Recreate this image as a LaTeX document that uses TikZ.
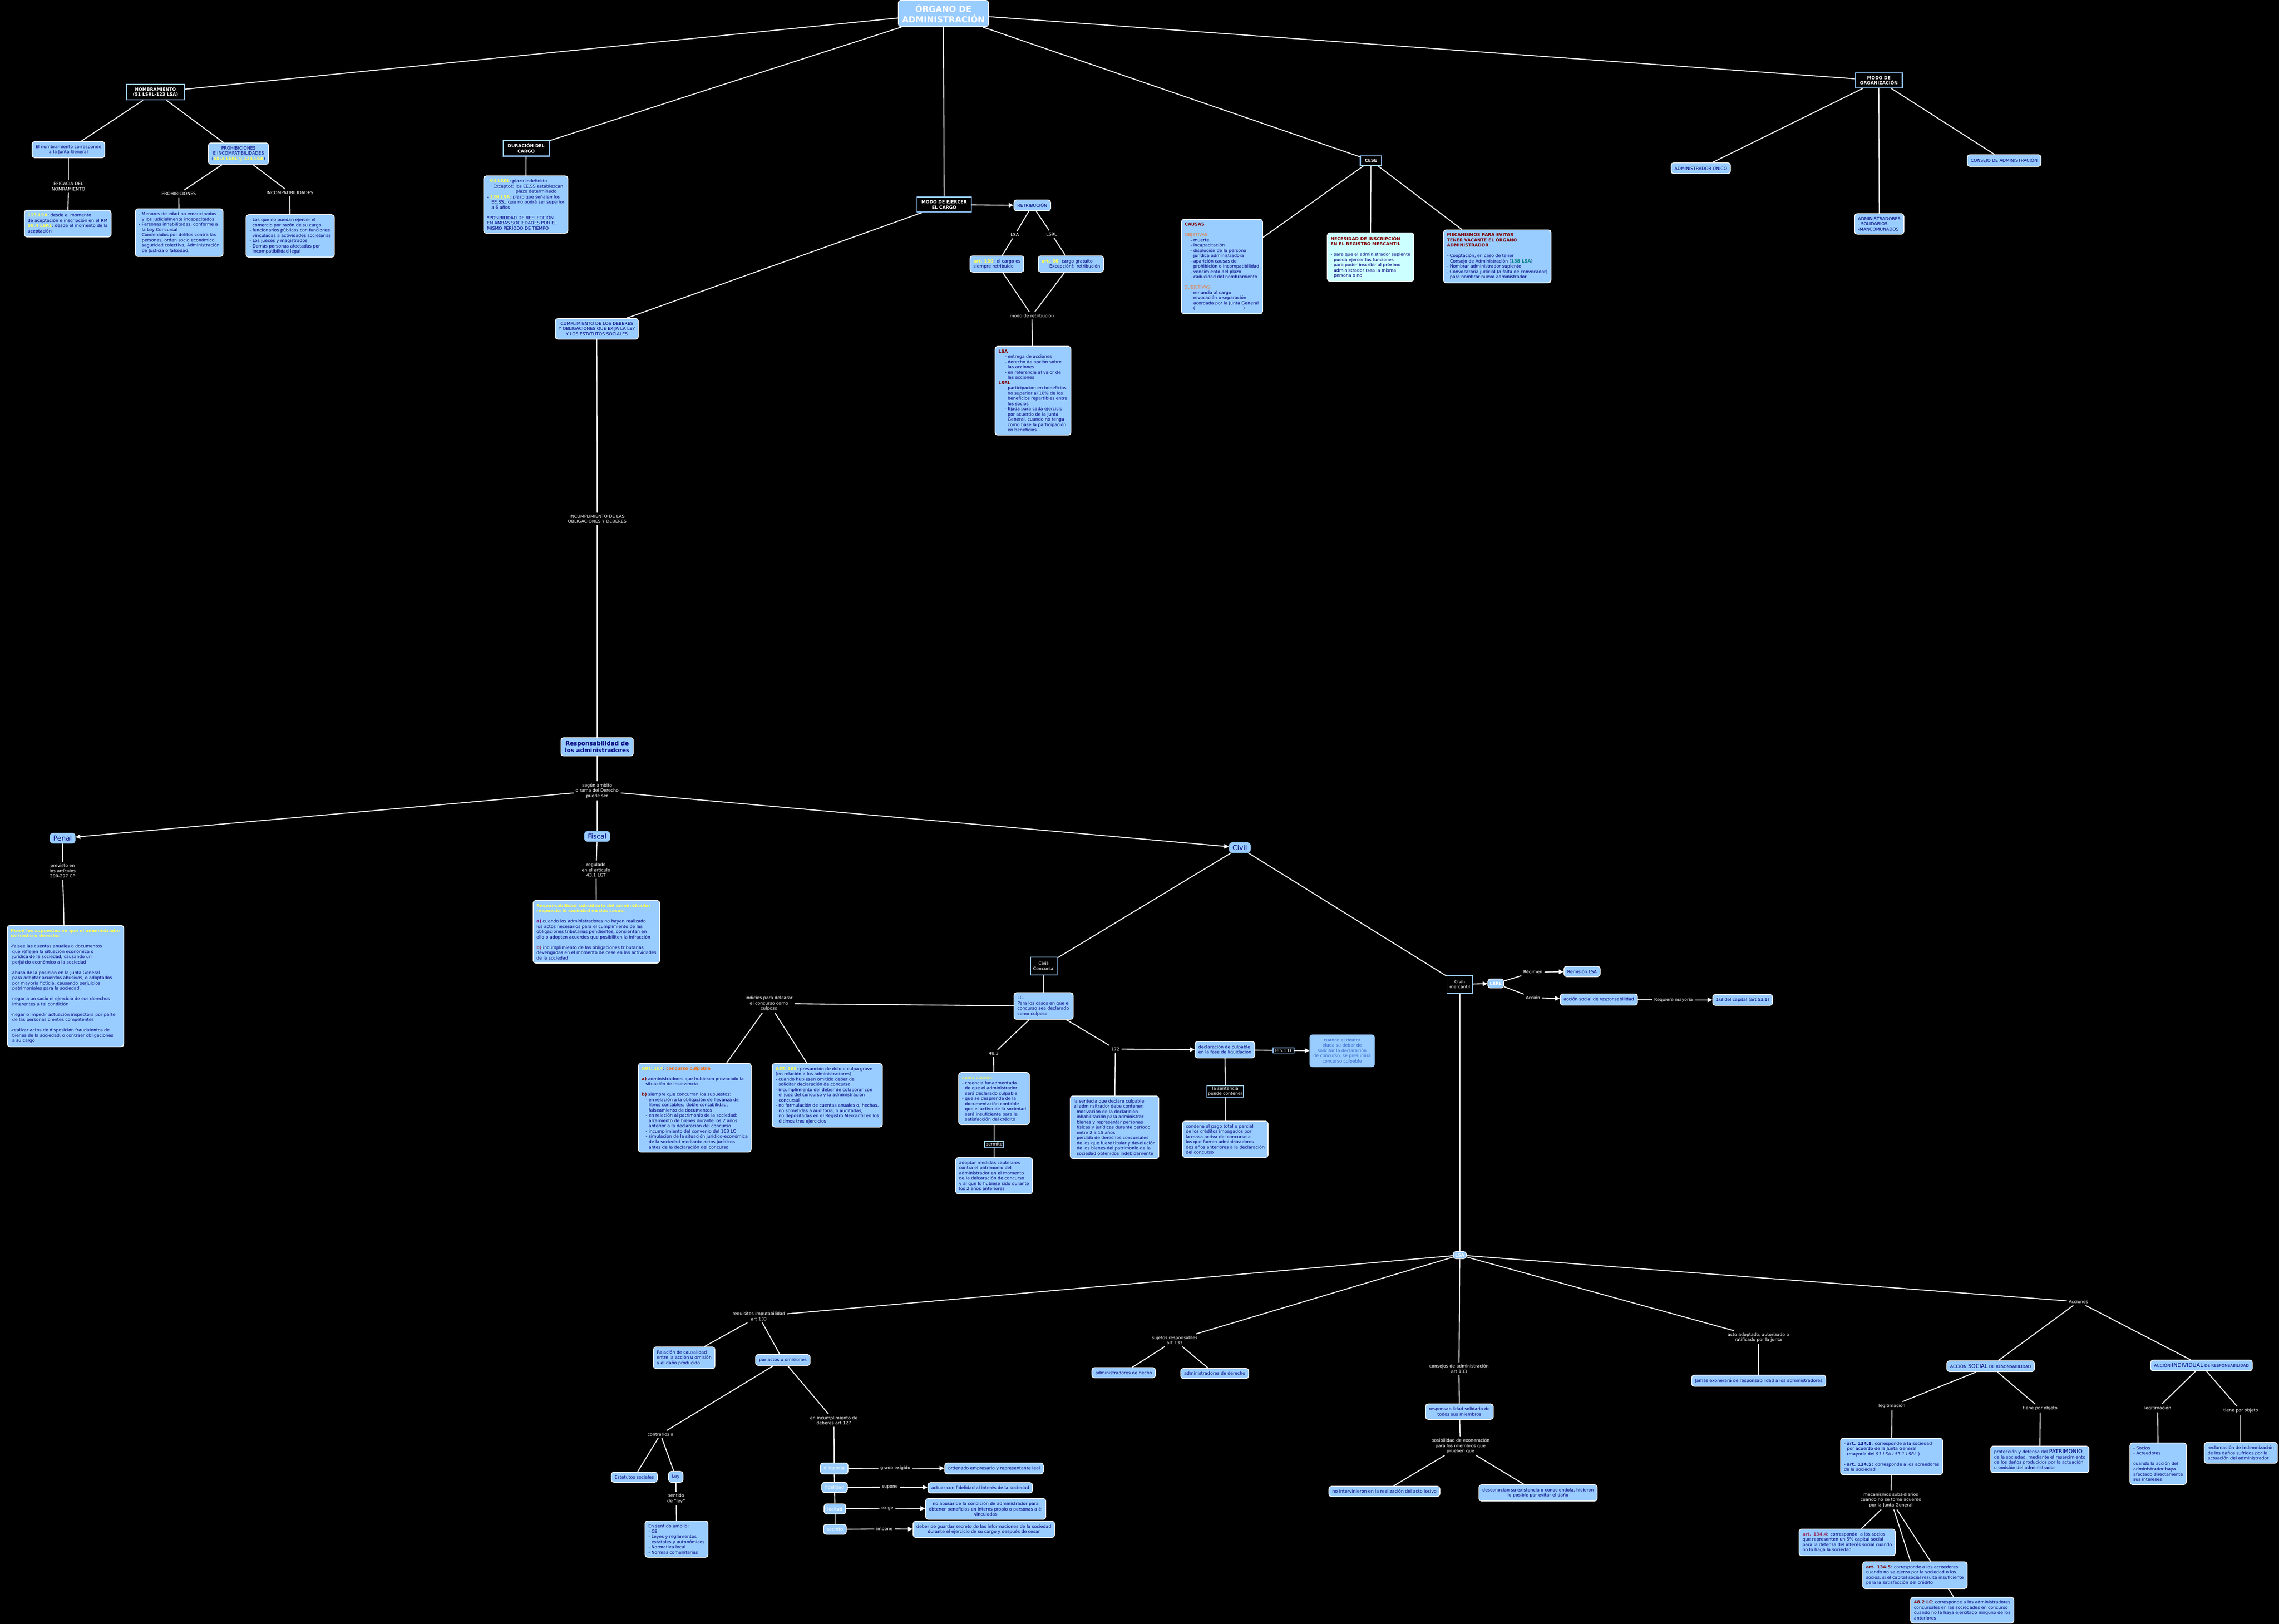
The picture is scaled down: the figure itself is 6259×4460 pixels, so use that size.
\documentclass[tikz,border=0pt]{standalone}
\usepackage{fontspec}
\setmainfont{DejaVu Sans}
\usetikzlibrary{arrows.meta,backgrounds}

\definecolor{boxblue}{RGB}{153,204,255}
\definecolor{navytext}{RGB}{0,0,128}
\definecolor{hlyellow}{RGB}{255,255,85}
\definecolor{darkred}{RGB}{128,0,0}
\definecolor{softorange}{RGB}{232,128,72}
\definecolor{hotorange}{RGB}{255,102,0}
\definecolor{tealtext}{RGB}{0,128,128}
\definecolor{purpletext}{RGB}{128,0,128}
\definecolor{plumtext}{RGB}{153,51,102}
\definecolor{palecyan}{RGB}{204,255,255}
\definecolor{midblue}{RGB}{51,102,204}

\newcommand\mapfont{\fontsize{6.8}{8.2}\selectfont}
\newcommand\hly[1]{\textcolor{hlyellow}{\textbf{#1}}}
\newcommand\drd[1]{\textcolor{darkred}{\textbf{#1}}}
\newcommand\indt{\hspace*{0.7em}}

\begin{document}
\begin{tikzpicture}[
  x=0.02cm, y=-0.02cm,
  every node/.style={font=\mapfont},
  idea/.style={draw=white, line width=1.2pt, fill=boxblue, text=navytext, rounded corners=4pt, align=center, inner xsep=5.3pt, inner ysep=5.3pt},
  ideaL/.style={idea, align=left},
  heading/.style={draw=boxblue, line width=1.6pt, fill=black, text=white, font=\mapfont\bfseries, align=center, inner xsep=7pt, inner ysep=5pt},
  darkbox/.style={draw=boxblue, line width=1.3pt, fill=black, text=white, align=center, inner xsep=1.5pt, inner ysep=1.5pt},
  big/.style={idea, draw=boxblue, font=\fontsize{10.7}{13}\selectfont, inner xsep=5pt, inner ysep=3.5pt},
  linkword/.style={text=white, align=center, inner sep=3pt},
  conn/.style={draw=white, line width=1.5pt},
  connto/.style={conn, -{Triangle[length=7.5pt,width=7pt]}}
]
\useasboundingbox (0,0) rectangle (6259,4460);
\begin{scope}[on background layer]
  \fill[black] (0,0) rectangle (6259,4460);
\end{scope}

\node[idea, text=white, font=\fontsize{13}{16}\selectfont\bfseries, inner xsep=6pt, inner ysep=6.5pt] (organo) at (2591,37) {ÓRGANO DE\\ADMINISTRACIÓN};

\node[heading, inner xsep=10pt] (nombra) at (427,253) {NOMBRAMIENTO\\(51 LSRL-123 LSA)};
\node[idea] (junta) at (188,411) {El nombramiento corresponde\\a la Junta General};
\node[idea] (prohib) at (655,422) {PROHIBICIONES\\E INCOMPATIBILIDADES\\(\hly{58.3 LSRL y 124 LSA})};
\node[linkword] (eficacia) at (188,512) {EFICACIA DEL\\NOMRAMIENTO};
\node[linkword] (lprohib) at (491,532) {PROHIBICIONES};
\node[linkword] (lincomp) at (796,529) {INCOMPATIBILIDADES};
\node[ideaL] (aceptacion) at (186,614) {\hly{125 LSA}: desde el momento\\de aceptación e inscripción en el RM\\\hly{58.4 LSRL}: desde el momento de la\\aceptación};
\node[ideaL] (prohlist) at (492,639) {- Menores de edad no emancipados\\\indt y los judicialmente incapacitados\\- Personas inhabilitadas, conforme a\\\indt la Ley Concursal\\- Condenados por delitos contra las\\\indt personas, orden socio económico\\\indt seguridad colectiva, Administración\\\indt de Justicia o falsedad.};
\node[ideaL] (incomplist) at (797,648) {- Los que no puedan ejercer el\\\indt comercio por razón de su cargo\\- funcionarios públicos con funciones\\\indt vinculadas a actividades societarias\\- Los jueces y magistrados\\- Demás personas afectadas por\\\indt incompatibilidad legal};

\node[heading] (duracion) at (1445,407) {DURACIÓN DEL\\CARGO};
\node[ideaL] (plazo) at (1444,562) {- \hly{60 LSRL}: plazo indefinido\\\hspace*{1.4em}Excepto!: los EE.SS establezcan\\\hspace*{6.6em}plazo determinado\\- \hly{126 LSA}: plazo que señalen los\\\hspace*{1em}EE.SS., que no podrá ser superior\\\hspace*{1em}a 6 años\\[8.2pt]*POSIBILIDAD DE REELECCIÓN\\EN AMBAS SOCIEDADES POR EL\\MISMO PERÍODO DE TIEMPO};
\node[idea] (cumplim) at (1639,903) {CUMPLIMIENTO DE LOS DEBERES\\Y OBLIGACIONES QUE EXIJA LA LEY\\Y LOS ESTATUTOS SOCIALES};
\node[linkword] (incumplim) at (1640,1425) {INCUMPLIMIENTO DE LAS\\OBLIGACIONES Y DEBERES};

\node[heading] (ejercer) at (2593,562) {MODO DE EJERCER\\EL CARGO};
\node[idea] (retrib) at (2835,564) {RETRIBUCIÓN};
\node[linkword] (lsaretr) at (2787,645) {LSA};
\node[linkword] (lsrlretr) at (2888,643) {LSRL};
\node[ideaL] (art130) at (2738,725) {\hly{art. 130}: el cargo es\\siempre retribuido};
\node[ideaL] (art66) at (2941,725) {\hly{art. 66}: cargo gratuito\\\hspace*{1.8em}Excepción!: retribución};
\node[linkword] (modoretr) at (2834,867) {modo de retribución};
\node[ideaL] (formas) at (2837,1073) {\drd{LSA}\\\hspace*{1.45em}- entrega de acciones\\\hspace*{1.45em}- derecho de opción sobre\\\hspace*{2.1em}las acciones\\\hspace*{1.45em}- en referencia al valor de\\\hspace*{2.1em}las acciones\\\drd{LSRL}\\\hspace*{1.45em}- participación en beneficios\\\hspace*{2.1em}no superior al 10\% de los\\\hspace*{2.1em}beneficios repartibles entre\\\hspace*{2.1em}los socios\\\hspace*{1.45em}- fijada para cada ejercicio\\\hspace*{2.1em}por acuerdo de la Junta\\\hspace*{2.1em}General, cuando no tenga\\\hspace*{2.1em}como base la participación\\\hspace*{2.1em}en beneficios};

\node[heading] (cese) at (3765,441) {CESE};
\node[ideaL] (causas) at (3356,732) {\drd{CAUSAS}\\[8.2pt]\textcolor{softorange}{OBJETIVAS:}\\\hspace*{1.3em}- muerte\\\hspace*{1.3em}- incapacitación\\\hspace*{1.3em}- disolución de la persona\\\hspace*{2em}jurídica administradora\\\hspace*{1.3em}- aparición causas de\\\hspace*{2em}prohibición o incompatibilidad\\\hspace*{1.3em}- vencimiento del plazo\\\hspace*{1.3em}- caducidad del nombramiento\\[8.2pt]\textcolor{softorange}{SUBJETIVAS:}\\\hspace*{1.3em}- renuncia al cargo\\\hspace*{1.3em}- revocación o separación\\\hspace*{2em}acordada por la Junta General\\\hspace*{2em}(\hspace*{11em})};
\node[ideaL, fill=palecyan] (inscrip) at (3764,706) {\drd{NECESIDAD DE INSCRIPCIÓN}\\\drd{EN EL REGISTRO MERCANTIL}\\[8.2pt]- para que el administrador suplente\\\indt pueda ejercer las funciones\\- para poder inscribir al próximo\\\indt administrador (sea la misma\\\indt persona o no};
\node[ideaL] (vacante) at (4112,704) {\drd{MECANISMOS PARA EVITAR}\\\drd{TENER VACANTE EL ÓRGANO}\\\drd{ADMINISTRADOR}\\[8.2pt]- Cooptación, en caso de tener\\\indt Consejo de Administración (\textcolor{tealtext}{\textbf{138 LSA}})\\- Nombrar administrador suplente\\- Convocatoria judicial (a falta de convocador)\\\indt para nombrar nuevo administrador};

\node[heading] (organiz) at (5160,221) {MODO DE\\ORGANIZACIÓN};
\node[idea] (unico) at (4671,462) {ADMINISTRADOR ÚNICO};
\node[idea] (consejo) at (5504,441) {CONSEJO DE ADMINISTRACIÓN};
\node[ideaL] (solidarios) at (5161,615) {ADMINISTRADORES\\- SOLIDARIOS\\-MANCOMUNADOS};

\node[idea, font=\fontsize{9}{11}\selectfont\bfseries, inner xsep=6pt] (respons) at (1640,2051) {Responsabilidad de\\los administradores};
\node[linkword] (ambito) at (1640,2172) {según àmbito\\o rama del Derecho\\puede ser};
\node[big] (penal) at (172,2302) {Penal};
\node[big] (fiscal) at (1640,2297) {Fiscal};
\node[big] (civil) at (3405,2328) {Civil};
\node[linkword] (previsto) at (172,2392) {previsto en\\los artículos\\290-297 CP};
\node[ideaL] (supuestos) at (180,2708) {\hly{Prevé los supuestos en que el administrador}\\\hly{de hecho o derecho:}\\[8.2pt]-falsee las cuentas anuales o documentos\\\hspace*{0.35em}que reflejen la situación económica o\\\hspace*{0.35em}jurídica de la sociedad, causando un\\\hspace*{0.35em}perjuicio económico a la sociedad\\[8.2pt]-abuso de la posición en la Junta General\\\hspace*{0.35em}para adoptar acuerdos abusivos, o adoptados\\\hspace*{0.35em}por mayoría fictícia, causando perjuicios\\\hspace*{0.35em}patrimoniales para la sociedad.\\[8.2pt]-negar a un socio el ejercicio de sus derechos\\\hspace*{0.35em}inherentes a tal condición\\[8.2pt]-negar o impedir actuación inspectora por parte\\\hspace*{0.35em}de las personas o entes competentes\\[8.2pt]-realizar actos de disposición fraudulentos de\\\hspace*{0.35em}bienes de la sociedad, o contraer obligaciones\\\hspace*{0.35em}a su cargo};
\node[linkword] (regulado) at (1637,2389) {regulado\\en el artículo\\43.1 LGT};
\node[ideaL] (subsid) at (1638,2559) {\hly{Responsabilidad subsidiaria del administrador}\\\hly{respoecto la sociedad en dos casos:}\\[8.2pt]\textcolor{purpletext}{\textbf{a)}} cuando los administradores no hayan realizado\\los actos necesarios para el cumplimiento de las\\obligaciones tributarias pendientes, consientan en\\ello o adopten acuerdos que posibiliten la infracción\\[8.2pt]\textcolor{plumtext}{\textbf{b)}} incumplimiento de las obligaciones tributarias\\devengadas en el momento de cese en las actividades\\de la sociedad};

\node[darkbox, inner xsep=4pt, inner ysep=7pt] (concursal) at (2867,2653) {Civil-\\Concursal};
\node[ideaL] (lc) at (2866,2763) {LC.\\Para los casos en que el\\concurso sea declarado\\como culposo};
\node[linkword] (indicios) at (2112,2756) {indicios para delcarar\\el concurso como\\culposo};
\node[ideaL] (art164) at (1908,3042) {\hly{ART. 164}: \textcolor{hotorange}{\textbf{concurso culpable}}\\[8.2pt]\drd{a)} administradores que hubiesen provocado la\\\hspace*{0.9em}situación de insolvencia\\[8.2pt]\drd{b)} siempre que concurran los supuestos:\\\hspace*{0.9em}- en relación a la obligación de llevanza de\\\hspace*{1.6em}libros contables: doble contabilidad,\\\hspace*{1.6em}falseamiento de documentos\\\hspace*{0.9em}- en relación al patrimonio de la sociedad:\\\hspace*{1.6em}alzamiento de bienes durante los 2 años\\\hspace*{1.6em}anterior a la declaración del concurso\\\hspace*{0.9em}- incumplimiento del convenio del 163 LC\\\hspace*{0.9em}- simulación de la situación jurídico-económica\\\hspace*{1.6em}de la sociedad mediante actos jurídicos\\\hspace*{1.6em}antes de la declaración del concurso};
\node[ideaL] (art165) at (2272,3008) {\hly{ART. 165}: presunción de dolo o culpa grave\\(en relación a los administradores)\\- cuando hubiesen omitido deber de\\\indt solicitar declaración de concurso\\- incumplimiento del deber de colaborar con\\\indt el juez del concurso y la administración\\\indt concursal\\- no formulación de cuentas anuales o, hechas,\\\indt no sometidas a auditoría; o auditadas,\\\indt no depositadas en el Registro Mercantil en los\\\indt últimos tres ejercicios};
\node[linkword] (l483) at (2729,2893) {48.3};
\node[linkword] (l172) at (3063,2881) {172};
\node[ideaL] (opera) at (2730,3017) {\textcolor{hlyellow}{opera cuando:}\\- creencia funadmentada\\\indt de que el administrador\\\indt será declarado culpable\\- que se desprenda de la\\\indt documentación contable\\\indt que el activo de la sociedad\\\indt será insuficiente para la\\\indt satisfacción del crédito};
\node[darkbox] (permite) at (2730,3143) {permite};
\node[ideaL] (cautelar) at (2730,3229) {adoptar medidas cautelares\\contra el patrimonio del\\administrador en el momento\\de la delcaración de concurso\\y al que lo hubiese sido durante\\los 2 años anteriores};
\node[ideaL] (sentcont) at (3061,3096) {la sentecia que declare culpable\\al adminsitrador debe contener:\\- motivación de la declarición\\- inhabilitación para administrar\\\indt bienes y representar personas\\\indt físicas y jurídicas durante período\\\indt entre 2 a 15 años\\- pérdida de derechos concursales\\\indt de los que fuere titular y devolución\\\indt de los bienes del patrimonio de la\\\indt sociedad obtenidos indebidamente};
\node[ideaL] (liquid) at (3364,2883) {declaración de culpable\\en la fase de liquidación};
\node[darkbox] (art1651) at (3525,2885) {165.1 LC};
\node[idea, draw=boxblue, text=midblue] (deudor) at (3686,2886) {cuanco el deutor\\eluda su deber de\\solicitar la declaración\\de concurso, se presumirá\\concurso culpable};
\node[darkbox] (puede) at (3365,2997) {la sentencia\\puede contener};
\node[ideaL] (condena) at (3365,3129) {condena al pago total o parcial\\de los créditos impagados por\\la masa activa del concurso a\\los que fueren administradores\\dos años anteriores a la declaración\\del concurso};

\node[darkbox, inner xsep=4pt, inner ysep=7pt] (mercantil) at (4009,2703) {Civil-\\mercantil};
\node[idea, text=white, font=\mapfont\bfseries, inner xsep=3pt, inner ysep=4.5pt] (lsrl) at (4108,2701) {LSRL};
\node[linkword] (regimen) at (4210,2670) {Régimen};
\node[idea] (remision) at (4345,2668) {Remisión LSA};
\node[linkword] (accion) at (4210,2740) {Acción};
\node[idea] (social) at (4391,2745) {acción social de responsabilidad};
\node[linkword] (mayoria) at (4596,2746) {Requiere mayoría};
\node[idea] (tercio) at (4786,2746) {1/3 del capital (art 53.1)};
\node[idea, text=white, font=\mapfont\bfseries, inner xsep=3pt, inner ysep=3pt] (lsa) at (4009,3447) {LSA};

\node[linkword] (requisitos) at (2084,3615) {requisitos imputabilidad\\art 133};
\node[ideaL] (causal) at (1879,3729) {Relación de causalidad\\entre la acción u omisión\\y el daño producido};
\node[idea] (actos) at (2150,3735) {por actos u omisiones};
\node[linkword] (contrarios) at (1814,3939) {contrarios a};
\node[linkword] (deberes) at (2290,3901) {en incumplimiento de\\deberes art 127};
\node[idea] (estatutos) at (1742,4057) {Estatutos sociales};
\node[idea] (ley) at (1856,4056) {Ley};
\node[linkword] (sentido) at (1857,4116) {sentido\\de "ley"};
\node[ideaL] (amplio) at (1858,4227) {En sentido amplio:\\- CE\\- Leyes y reglamentos\\\indt estatales y autonómicos\\- Normativa local\\- Normas comunitarias};
\node[idea, text=white] (diligencia) at (2291,4033) {diligencia};
\node[idea, text=white] (fidelidad) at (2292,4085) {fidelidad};
\node[idea, text=white] (lealtad) at (2293,4144) {lealtad};
\node[idea, text=white] (secreto) at (2293,4200) {secreto};
\node[linkword] (grado) at (2459,4032) {grado exigido};
\node[idea] (ordenado) at (2730,4033) {ordenado empresario y representante leal};
\node[linkword] (supone) at (2444,4084) {supone};
\node[idea] (actuar) at (2692,4086) {actuar con fidelidad al interés de la sociedad};
\node[linkword] (exige) at (2437,4142) {exige};
\node[idea] (abusar) at (2707,4144) {no abusar de la condición de administrador para\\obtener beneficios en interes propio o personas a él\\vinculadas};
\node[linkword] (impone) at (2429,4199) {impone};
\node[idea] (guardar) at (2702,4200) {deber de guardar secreto de las informaciones de la sociedad\\durante el ejercicio de su cargo y después de cesar};

\node[linkword] (sujetos) at (3226,3681) {sujetos responsables\\art 133};
\node[idea] (hecho) at (3086,3770) {administradores de hecho};
\node[idea] (derecho) at (3336,3772) {administradores de derecho};
\node[linkword] (consejos) at (4007,3759) {consejos de administración\\art 133};
\node[idea] (solidaria) at (4008,3877) {responsabilidad solidaria de\\todos sus miembros};
\node[linkword] (exonera) at (4011,3971) {posibilidad de exoneración\\para los miembros que\\prueben que};
\node[idea] (intervin) at (3802,4096) {no intervinieron en la realización del acto lesivo};
\node[idea] (desconoc) at (4224,4100) {desconocían su existencia o conociendola, hicieron\\lo posible por evitar el daño};
\node[linkword] (adoptado) at (4829,3673) {acto adoptado, autorizado o\\ratificado por la junta};
\node[idea] (jamas) at (4830,3792) {Jamás exonerará de responsabilidad a los administradores};

\node[linkword] (acciones) at (5708,3575) {Acciones};
\node[idea] (asocial) at (5467,3752) {{\fontsize{6.6}{8}\selectfont ACCIÓN} {\fontsize{8.4}{9}\selectfont SOCIAL} {\fontsize{6.2}{8}\selectfont DE RESONSABILIDAD}};
\node[idea] (aindiv) at (6046,3750) {{\fontsize{6.6}{8}\selectfont ACCIÓN} {\fontsize{8.4}{9}\selectfont INDIVIDUAL} {\fontsize{6.2}{8}\selectfont DE RESPONSABILIDAD}};
\node[linkword] (legit1) at (5196,3861) {legitimación};
\node[linkword] (objeto1) at (5603,3868) {tiene por objeto};
\node[linkword] (legit2) at (5926,3867) {legitimación};
\node[linkword] (objeto2) at (6154,3874) {tiene por objeto};
\node[ideaL] (art1341) at (5195,4000) {- \textbf{art. 134.1}: corresponde a la sociedad\\\indt por acuerdo de la Junta General\\\indt (mayoría del \textit{93 LSA i 53.1 LSRL} )\\[8.2pt]- \textbf{art. 134.5:} corresponde a los acreedores\\de la sociedad};
\node[ideaL] (patrim) at (5602,4008) {protección y defensa del {\fontsize{8.4}{8.2}\selectfont PATRIMONIO}\\de la sociedad, mediante el resarcimiento\\de los daños producidos por la actuación\\u omisión del administrador};
\node[ideaL] (socios) at (5927,4020) {- Socios\\- Acreedores\\[8.2pt]cuando la acción del\\administrador haya\\afectado directamente\\sus intereses};
\node[ideaL] (reclam) at (6154,3990) {reclamación de indemnización\\de los daños sufridos por la\\actuación del administrador};
\node[linkword] (subsidiar) at (5193,4120) {mecanismos subsidiarios\\cuando no se toma acuerdo\\por la Junta General};
\node[ideaL] (art1344) at (5073,4236) {\textcolor{plumtext}{\textbf{art. 134.4}}: corresponde\ \ a los socios\\que representen un 5\% capital social\\para la defensa del interés social cuando\\no lo haga la sociedad};
\node[ideaL] (art1345) at (5259,4326) {\drd{art. 134.5}: corresponde a los acreedores\\cuando no se ejerza por la sociedad o los\\socios, si el capital social resulta insuficiente\\para la satisfacción del crédito};
\node[ideaL] (lc482) at (5389,4422) {\drd{48.2 LC}: corresponde a los administradores\\concursales en las sociedades en concurso\\cuando no la haya ejercitado ninguno de los\\anteriores};

\begin{scope}[on background layer]
\draw[conn] (organo) -- (nombra);
\draw[conn] (organo) -- (duracion);
\draw[conn] (organo) -- (ejercer);
\draw[conn] (organo) -- (cese);
\draw[conn] (organo) -- (organiz);
\draw[conn] (nombra) -- (junta);
\draw[conn] (nombra) -- (prohib);
\draw[conn] (junta) -- (eficacia);
\draw[conn] (eficacia) -- (aceptacion);
\draw[conn] (prohib) -- (lprohib);
\draw[conn] (lprohib) -- (prohlist);
\draw[conn] (prohib) -- (lincomp);
\draw[conn] (lincomp) -- (incomplist);
\draw[conn] (duracion) -- (plazo);
\draw[conn] (ejercer) -- (cumplim);
\draw[connto] (ejercer) -- (retrib);
\draw[conn] (retrib) -- (lsaretr);
\draw[conn] (lsaretr) -- (art130);
\draw[conn] (retrib) -- (lsrlretr);
\draw[conn] (lsrlretr) -- (art66);
\draw[conn] (art130) -- (modoretr);
\draw[conn] (art66) -- (modoretr);
\draw[conn] (modoretr) -- (formas);
\draw[conn] (cese) -- (causas);
\draw[conn] (cese) -- (inscrip);
\draw[conn] (cese) -- (vacante);
\draw[conn] (organiz) -- (unico);
\draw[conn] (organiz) -- (solidarios);
\draw[conn] (organiz) -- (consejo);
\draw[conn] (cumplim) -- (incumplim);
\draw[conn] (incumplim) -- (respons);
\draw[conn] (respons) -- (ambito);
\draw[connto] (ambito) -- (penal);
\draw[conn] (ambito) -- (fiscal);
\draw[connto] (ambito) -- (civil);
\draw[conn] (penal) -- (previsto);
\draw[conn] (previsto) -- (supuestos);
\draw[conn] (fiscal) -- (regulado);
\draw[conn] (regulado) -- (subsid);
\draw[conn] (civil) -- (concursal);
\draw[conn] (civil) -- (mercantil);
\draw[conn] (concursal) -- (lc);
\draw[conn] (lc) -- (indicios);
\draw[conn] (indicios) -- (art164);
\draw[conn] (indicios) -- (art165);
\draw[conn] (lc) -- (l483);
\draw[conn] (l483) -- (opera);
\draw[conn] (opera) -- (permite);
\draw[conn] (permite) -- (cautelar);
\draw[conn] (lc) -- (l172);
\draw[conn] (l172) -- (sentcont);
\draw[connto] (l172) -- (liquid);
\draw[conn] (liquid) -- (art1651);
\draw[connto] (art1651) -- (deudor);
\draw[conn] (liquid) -- (puede);
\draw[conn] (puede) -- (condena);
\draw[connto] (mercantil) -- (lsrl);
\draw[conn] (lsrl) -- (regimen);
\draw[connto] (regimen) -- (remision);
\draw[conn] (lsrl) -- (accion);
\draw[connto] (accion) -- (social);
\draw[conn] (social) -- (mayoria);
\draw[connto] (mayoria) -- (tercio);
\draw[conn] (mercantil) -- (lsa);
\draw[conn] (lsa) -- (requisitos);
\draw[conn] (lsa) -- (sujetos);
\draw[conn] (lsa) -- (consejos);
\draw[conn] (lsa) -- (adoptado);
\draw[conn] (lsa) -- (acciones);
\draw[conn] (requisitos) -- (causal);
\draw[conn] (requisitos) -- (actos);
\draw[conn] (actos) -- (contrarios);
\draw[conn] (actos) -- (deberes);
\draw[conn] (contrarios) -- (estatutos);
\draw[conn] (contrarios) -- (ley);
\draw[conn] (ley) -- (sentido);
\draw[conn] (sentido) -- (amplio);
\draw[conn] (deberes) -- (diligencia);
\draw[conn] (diligencia) -- (fidelidad);
\draw[conn] (fidelidad) -- (lealtad);
\draw[conn] (lealtad) -- (secreto);
\draw[conn] (diligencia) -- (grado);
\draw[connto] (grado) -- (ordenado);
\draw[conn] (fidelidad) -- (supone);
\draw[connto] (supone) -- (actuar);
\draw[conn] (lealtad) -- (exige);
\draw[connto] (exige) -- (abusar);
\draw[conn] (secreto) -- (impone);
\draw[connto] (impone) -- (guardar);
\draw[conn] (sujetos) -- (hecho);
\draw[conn] (sujetos) -- (derecho);
\draw[conn] (consejos) -- (solidaria);
\draw[conn] (solidaria) -- (exonera);
\draw[conn] (exonera) -- (intervin);
\draw[conn] (exonera) -- (desconoc);
\draw[conn] (adoptado) -- (jamas);
\draw[conn] (acciones) -- (asocial);
\draw[conn] (acciones) -- (aindiv);
\draw[conn] (asocial) -- (legit1);
\draw[conn] (legit1) -- (art1341);
\draw[conn] (art1341) -- (subsidiar);
\draw[conn] (subsidiar) -- (art1344);
\draw[conn] (subsidiar) -- (art1345);
\draw[conn] (subsidiar) -- (lc482);
\draw[conn] (asocial) -- (objeto1);
\draw[conn] (objeto1) -- (patrim);
\draw[conn] (aindiv) -- (legit2);
\draw[conn] (legit2) -- (socios);
\draw[conn] (aindiv) -- (objeto2);
\draw[conn] (objeto2) -- (reclam);
\end{scope}
\end{tikzpicture}
\end{document}
